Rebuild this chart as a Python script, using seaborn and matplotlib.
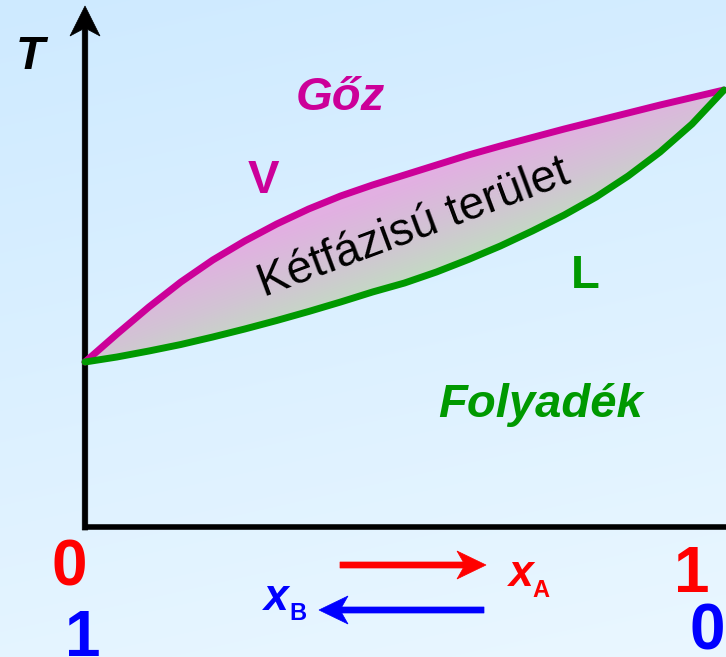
import numpy as np
import matplotlib
matplotlib.use("Agg")
import matplotlib.pyplot as plt
from matplotlib.patches import Polygon
import seaborn as sns

# ---- data (T in arbitrary units) ----
x_A = [0.00, 0.05, 0.10, 0.15, 0.20, 0.25, 0.30, 0.35, 0.40, 0.45, 0.50,
       0.55, 0.60, 0.65, 0.70, 0.75, 0.80, 0.85, 0.90, 0.95, 1.00]
T_vapor = [16.5, 19.3, 22.0, 24.5, 26.7, 28.6, 30.3, 31.8, 33.1, 34.2, 35.2,
           36.2, 37.2, 38.1, 38.95, 39.8, 40.6, 41.4, 42.2, 42.95, 43.7]
T_liquid = [16.5, 17.0, 17.6, 18.25, 19.0, 19.8, 20.65, 21.55, 22.5, 23.5, 24.4,
            25.5, 26.75, 28.1, 29.6, 31.2, 33.0, 35.1, 37.5, 40.3, 43.7]
end_labels_A = ["0", "1"]
end_labels_B = ["1", "0"]

MAGENTA = "#CC0099"
GREEN = "#009900"
RED = "#FF0000"
BLUE = "#0000FF"

sns.set_theme(style="white")
plt.rcParams['font.family'] = ['Liberation Sans', 'DejaVu Sans']

W, H = 726, 657
fig = plt.figure(figsize=(W / 100, H / 100), dpi=100)
ax = fig.add_axes([0, 0, 1, 1])

# pixel -> data helpers (layout only)
PX0, PX1, PY0, PYS = 85.0, 724.0, 527.0, 10.0
def X(px):
    return (px - PX0) / (PX1 - PX0)
def Y(py):
    return (PY0 - py) / PYS

xlim = (X(0), X(W))
ylim = (Y(H), Y(0))
ax.set_xlim(*xlim)
ax.set_ylim(*ylim)
ax.set_xticks([])
ax.set_yticks([])
for s in ax.spines.values():
    s.set_visible(False)
ax.grid(False)

# background gradient
yy, xx = np.mgrid[0:H, 0:W].astype(float)
t = np.clip(0.8 * yy / H + 0.2 * xx / W, 0, 1)[..., None]
c0 = np.array([206, 234, 255]) / 255
c1 = np.array([234, 247, 255]) / 255
bg = c0 * (1 - t) + c1 * t
ax.imshow(bg, extent=(*xlim, *ylim), origin='upper', aspect='auto', zorder=0)

# two-phase region gradient fill
a = np.deg2rad(20.4)
proj = (xx - 418) * np.sin(a) + (yy - 232) * np.cos(a)
s = np.clip((proj + 50) / 100, 0, 1)[..., None]
ctop = np.array([226, 176, 226]) / 255
cmid = np.array([210, 196, 212]) / 255
cbot = np.array([192, 222, 192]) / 255
lens = np.where(s < 0.5,
                ctop * (1 - 2 * s) + cmid * (2 * s),
                cmid * (2 - 2 * s) + cbot * (2 * s - 1))
poly = ax.fill_between(x_A, T_liquid, T_vapor, facecolor='none', edgecolor='none')
im = ax.imshow(lens, extent=(*xlim, *ylim), origin='upper', aspect='auto', zorder=1)
im.set_clip_path(poly.get_paths()[0], transform=ax.transData)


def notched_arrow(tail, tip, color, shaft=6.0, hl=29.0, hw=14.0, notch=8.0, z=2):
    """Draw a swept-back arrow; geometry given in pixels."""
    tail = np.array(tail, float)
    tip = np.array(tip, float)
    d = tip - tail
    L = np.hypot(*d)
    u = d / L
    n = np.array([-u[1], u[0]])
    sw = shaft / 2
    join = L - hl + notch * (1 - sw / hw)
    pts_local = [(0, sw), (join, sw), (L - hl, hw), (L, 0),
                 (L - hl, -hw), (join, -sw), (0, -sw)]
    pts = [tail + u * p + n * q for p, q in pts_local]
    pts = [(X(px), Y(py)) for px, py in pts]
    ax.add_patch(Polygon(pts, closed=True, facecolor=color, edgecolor=color,
                         lw=0.5, zorder=z))


# axes: x axis line and T arrow
ax.plot([0, xlim[1]], [0, 0], color='black', lw=4.0, solid_capstyle='butt', zorder=2)
notched_arrow((85, 530), (85, 6), 'black', shaft=5.5, hl=30, hw=15, notch=8)

# curves
sns.lineplot(x=x_A, y=T_vapor, color=MAGENTA, lw=5, ax=ax, zorder=3,
             solid_capstyle='round')
sns.lineplot(x=x_A, y=T_liquid, color=GREEN, lw=5, ax=ax, zorder=3,
             solid_capstyle='round')
ax.set_xlim(*xlim)
ax.set_ylim(*ylim)

# labels
ax.text(X(30), Y(69), "T", fontsize=34, fontweight='bold', fontstyle='italic',
        color='black', ha='center', va='baseline')
ax.text(X(340), Y(110), "Gőz", fontsize=34, fontweight='bold', fontstyle='italic',
        color=MAGENTA, ha='center', va='baseline')
ax.text(X(263), Y(193), "V", fontsize=34, fontweight='bold',
        color=MAGENTA, ha='center', va='baseline')
ax.text(X(585), Y(288), "L", fontsize=34, fontweight='bold',
        color=GREEN, ha='center', va='baseline')
ax.text(X(541), Y(417), "Folyadék", fontsize=34, fontweight='bold', fontstyle='italic',
        color=GREEN, ha='center', va='baseline')
ax.text(X(418), Y(240), "Kétfázisú terület", fontsize=33, color='black',
        rotation=20.4, rotation_mode='anchor', ha='center', va='baseline', zorder=4)

# end labels for mole fractions
ax.text(X(69), Y(586), end_labels_A[0], fontsize=46, fontweight='bold', color=RED,
        ha='center', va='baseline')
ax.text(X(692), Y(592), end_labels_A[1], fontsize=46, fontweight='bold', color=RED,
        ha='center', va='baseline')
ax.text(X(83), Y(656), end_labels_B[0], fontsize=46, fontweight='bold', color=BLUE,
        ha='center', va='baseline')
ax.text(X(707), Y(650), end_labels_B[1], fontsize=46, fontweight='bold', color=BLUE,
        ha='center', va='baseline')

# direction arrows
notched_arrow((340, 565), (486, 565), RED, shaft=6, hl=29, hw=14, notch=8)
notched_arrow((484, 610), (319, 610), BLUE, shaft=6, hl=29, hw=14, notch=8)
ax.text(X(509), Y(586), "x", fontsize=32, fontweight='bold', fontstyle='italic',
        color=RED, ha='left', va='baseline')
ax.text(X(532), Y(597), "A", fontsize=17, fontweight='bold',
        color=RED, ha='left', va='baseline')
ax.text(X(264), Y(610), "x", fontsize=32, fontweight='bold', fontstyle='italic',
        color=BLUE, ha='left', va='baseline')
ax.text(X(289), Y(620), "B", fontsize=17, fontweight='bold',
        color=BLUE, ha='left', va='baseline')

fig.savefig("out.png", dpi=100)
